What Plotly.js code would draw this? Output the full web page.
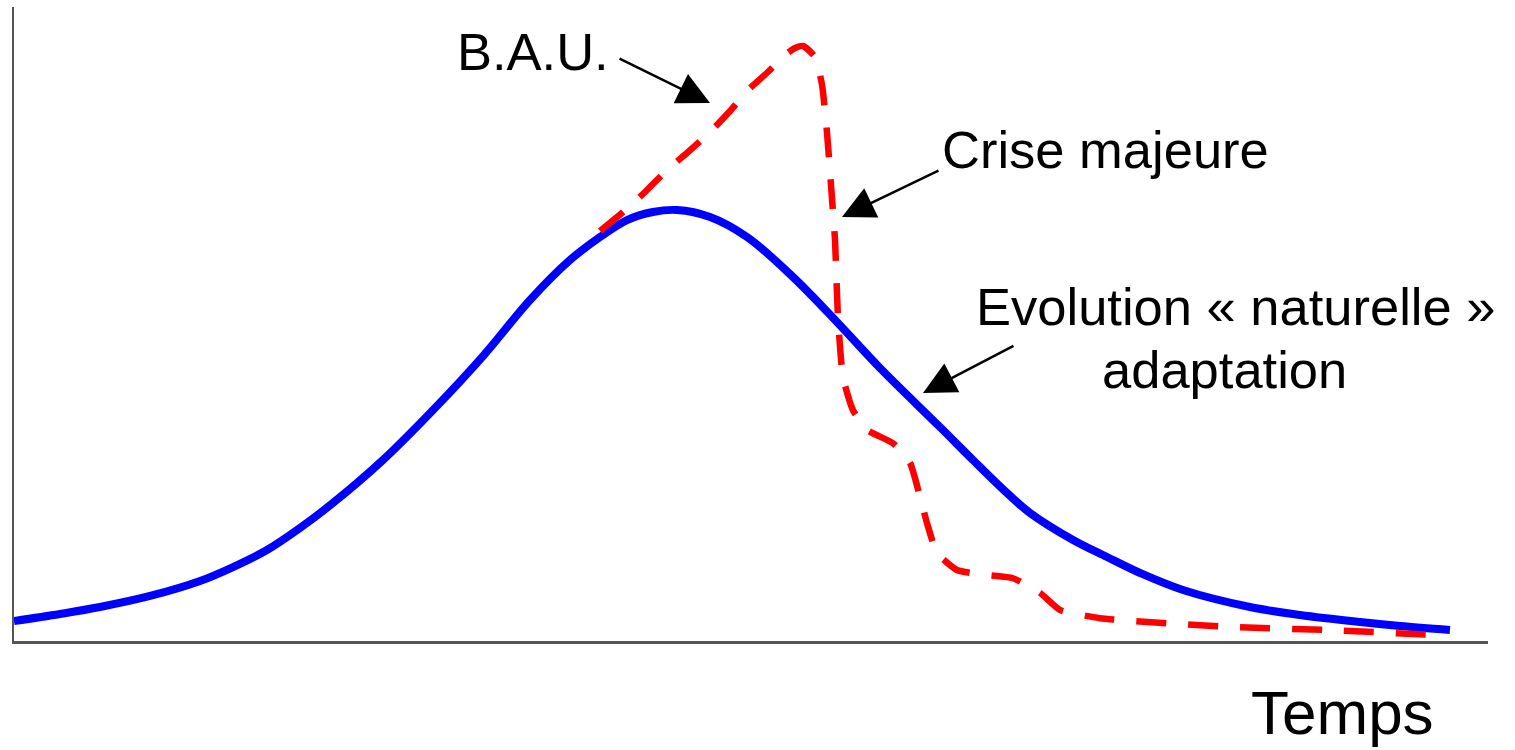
<!DOCTYPE html>
<html>
<head>
<meta charset="utf-8">
<script src="https://cdn.plot.ly/plotly-3.0.1.min.js"></script>
<style>html,body{margin:0;padding:0;background:#fff;}</style>
</head>
<body>
<div id="chart" style="width:1515px;height:750px;"></div>
<script>
// Evolution « naturelle » / adaptation (blue, solid)
const natTime = [0.00, 3.12, 5.83, 9.23, 12.62, 14.86, 17.16, 19.40, 21.64, 25.03, 28.43, 31.82, 35.01, 37.72, 39.76, 41.59, 43.35, 44.98, 47.22, 49.73, 52.85, 55.83, 58.75, 62.82, 65.06, 67.37, 68.93, 71.85, 74.15, 76.39, 79.31, 83.85, 87.25, 91.32, 94.03, 97.42];
const natValue = [3.15, 4.26, 5.36, 7.10, 9.46, 11.67, 14.35, 17.82, 21.77, 28.55, 36.44, 44.95, 53.79, 60.09, 63.72, 66.40, 67.67, 67.98, 66.88, 63.72, 57.41, 50.32, 43.06, 33.75, 28.55, 23.34, 20.19, 15.93, 13.25, 10.73, 8.04, 5.36, 4.10, 2.99, 2.37, 1.74];

// B.A.U. then crise majeure (red, dashed)
const bauTime = [39.76, 41.32, 42.81, 44.30, 45.73, 47.22, 48.58, 49.80, 51.15, 52.31, 52.99, 53.53, 54.34, 54.82, 55.16, 55.50, 55.70, 55.90, 56.24, 56.92, 57.87, 59.63, 60.79, 61.47, 61.94, 62.62, 63.98, 66.01, 67.77, 69.61, 70.96, 73.68, 78.22, 82.70, 89.48, 96.74];
const bauValue = [64.67, 67.67, 70.82, 74.29, 77.13, 80.28, 83.60, 86.91, 89.75, 92.43, 93.53, 93.85, 92.11, 87.7, 80.1, 69.6, 63.2, 51.1, 41.6, 36.4, 33.3, 31.2, 28.1, 22.7, 18.6, 13.9, 11.2, 10.4, 9.9, 7.6, 4.9, 3.6, 2.8, 2.2, 1.7, 0.9];

// Labels
const labelTexts = ["B.A.U.", "Crise majeure", "Evolution « naturelle »", "adaptation"];
const labelX = [35.21, 74.02, 82.9, 82.09];
const labelY = [93.06, 77.6, 52.8, 42.8];
const axisLabel = "Temps";

// Arrows: tail -> head
const arrowTailX = [40.98, 62.82, 67.91];
const arrowTailY = [91.96, 74.29, 46.69];
const arrowHeadX = [47.22, 56.17, 61.67];
const arrowHeadY = [84.86, 66.88, 39.12];

const font = "Liberation Sans, Arial, sans-serif";

const traces = [
  {x: natTime, y: natValue, type: 'scatter', mode: 'lines',
   line: {color: '#0000ff', width: 8, shape: 'spline', smoothing: 1}, hoverinfo: 'skip'},
  {x: bauTime, y: bauValue, type: 'scatter', mode: 'lines',
   line: {color: '#ff0000', width: 6.5, dash: '30px,22px', shape: 'spline', smoothing: 0.5}, hoverinfo: 'skip'}
];

const annotations = [];
for (let i = 0; i < labelTexts.length; i++) {
  annotations.push({x: labelX[i], y: labelY[i], xref: 'x', yref: 'y', text: labelTexts[i],
    showarrow: false, xanchor: 'center', yanchor: 'middle',
    font: {family: font, size: 52.5, color: '#000'}});
}
annotations.push({x: 90.1, y: -0.112, xref: 'x', yref: 'paper', text: axisLabel,
  showarrow: false, xanchor: 'center', yanchor: 'middle',
  font: {family: font, size: 62, color: '#000'}});
for (let i = 0; i < arrowTailX.length; i++) {
  annotations.push({x: arrowHeadX[i], y: arrowHeadY[i], xref: 'x', yref: 'y',
    ax: arrowTailX[i], ay: arrowTailY[i], axref: 'x', ayref: 'y', text: '',
    showarrow: true, arrowhead: 2, arrowsize: 2.6, arrowwidth: 2.5, arrowcolor: '#000'});
}

const layout = {
  width: 1515, height: 750,
  margin: {l: 14, r: 27, t: 7, b: 109},
  paper_bgcolor: '#fff', plot_bgcolor: '#fff',
  showlegend: false,
  xaxis: {range: [0, 100], showline: true, linecolor: '#555', linewidth: 2.5,
          showticklabels: false, ticks: '', showgrid: false, zeroline: false},
  yaxis: {range: [0, 100], showline: true, linecolor: '#555', linewidth: 2.5,
          showticklabels: false, ticks: '', showgrid: false, zeroline: false},
  annotations: annotations
};

Plotly.newPlot('chart', traces, layout, {displayModeBar: false, staticPlot: true});
</script>
</body>
</html>
